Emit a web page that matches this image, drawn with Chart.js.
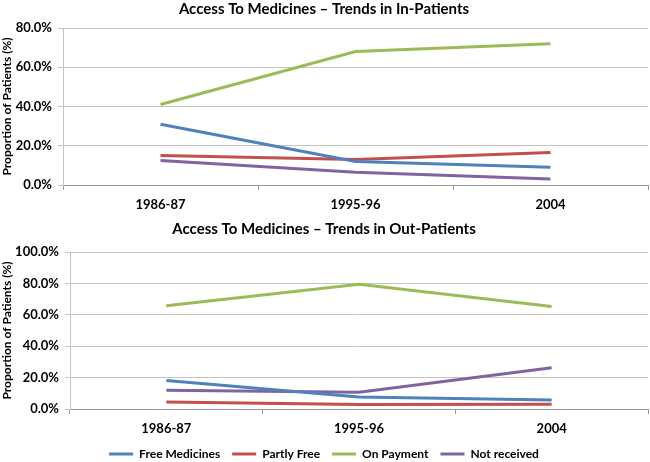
<!DOCTYPE html>
<html>
<head>
<meta charset="utf-8">
<script src="https://cdn.jsdelivr.net/npm/chart.js@4"></script>
<style>
  html, body { margin: 0; background: #fff; overflow: hidden; }
  .box { position: absolute; left: 0; width: 650px; }
  #top { top: 0; height: 215px; }
  #bottom { top: 215px; height: 255px; }
</style>
</head>
<body>
<div class="box" id="top"><canvas id="inChart"></canvas></div>
<div class="box" id="bottom"><canvas id="outChart"></canvas></div>
<script>
// categories
const years = ['1986-87', '1995-96', '2004'];
const seriesNames = ['Free Medicines', 'Partly Free', 'On Payment', 'Not received'];
const seriesColors = ['#4F81BD', '#C0504D', '#9BBB59', '#8064A2'];

// in-patients (%)
const inFree = [31, 12, 9];
const inPartly = [15, 13, 16.5];
const inPayment = [41, 68, 72];
const inNotReceived = [12.5, 6.5, 3];

// out-patients (%)
const outFree = [18.2, 7.6, 5.7];
const outPartly = [4.4, 2.8, 3];
const outPayment = [65.7, 79.4, 65.3];
const outNotReceived = [11.9, 10.6, 26.3];

const fontFam = 'Lato, "Liberation Sans", sans-serif';

function makeSets(arrays) {
  return arrays.map((arr, i) => ({
    label: seriesNames[i],
    data: arr,
    borderColor: seriesColors[i],
    backgroundColor: seriesColors[i],
    borderWidth: 3,
    pointRadius: 0,
    pointStyle: 'line',
    tension: 0
  }));
}

function makeConfig(title, arrays, yMax, yWidth, xShrink, showLegend, pad, titleGap) {
  return {
    type: 'line',
    data: { labels: years, datasets: makeSets(arrays) },
    options: {
      responsive: true,
      maintainAspectRatio: false,
      animation: false,
      layout: { padding: pad },
      plugins: {
        title: {
          display: true,
          text: title,
          color: '#000',
          font: { family: fontFam, size: 15, weight: 'bold' },
          padding: { top: 0, bottom: titleGap }
        },
        legend: {
          display: showLegend,
          position: 'bottom',
          labels: {
            usePointStyle: true,
            pointStyle: 'line',
            pointStyleWidth: 24,
            boxHeight: 12,
            color: '#000',
            padding: 12,
            font: { family: fontFam, size: 12, weight: 'bold' }
          }
        },
        tooltip: { enabled: false }
      },
      scales: {
        x: {
          offset: true,
          afterFit: (s) => { s.height = s.height - xShrink; },
          grid: { display: true, offset: true, drawOnChartArea: false, tickLength: 5, color: '#999' },
          border: { color: '#999' },
          ticks: { color: '#000', padding: 8, font: { family: fontFam, size: 13, weight: 'bold', lineHeight: 1 } }
        },
        y: {
          min: 0,
          max: yMax,
          afterFit: (s) => { s.width = yWidth; },
          grid: { color: '#c4c4c4', tickLength: 5 },
          border: { color: '#c4c4c4' },
          title: {
            display: true,
            text: 'Proportion of Patients (%)',
            color: '#000',
            padding: 0,
            font: { family: fontFam, size: 12, weight: 'bold' }
          },
          ticks: {
            stepSize: 20,
            color: '#000',
            padding: 6,
            font: { family: fontFam, size: 13, weight: 'bold' },
            callback: (v) => v.toFixed(1) + '%'
          }
        }
      }
    }
  };
}

new Chart(document.getElementById('inChart'),
  makeConfig('Access To Medicines \u2013 Trends in In-Patients',
    [inFree, inPartly, inPayment, inNotReceived], 80, 63, 4, false,
    { top: 0, right: 2, left: 0, bottom: 0 }, 10));

new Chart(document.getElementById('outChart'),
  makeConfig('Access To Medicines \u2013 Trends in Out-Patients',
    [outFree, outPartly, outPayment, outNotReceived], 100, 70, 7, true,
    { top: 5, right: 2, left: 0, bottom: 0 }, 14));
</script>
</body>
</html>
